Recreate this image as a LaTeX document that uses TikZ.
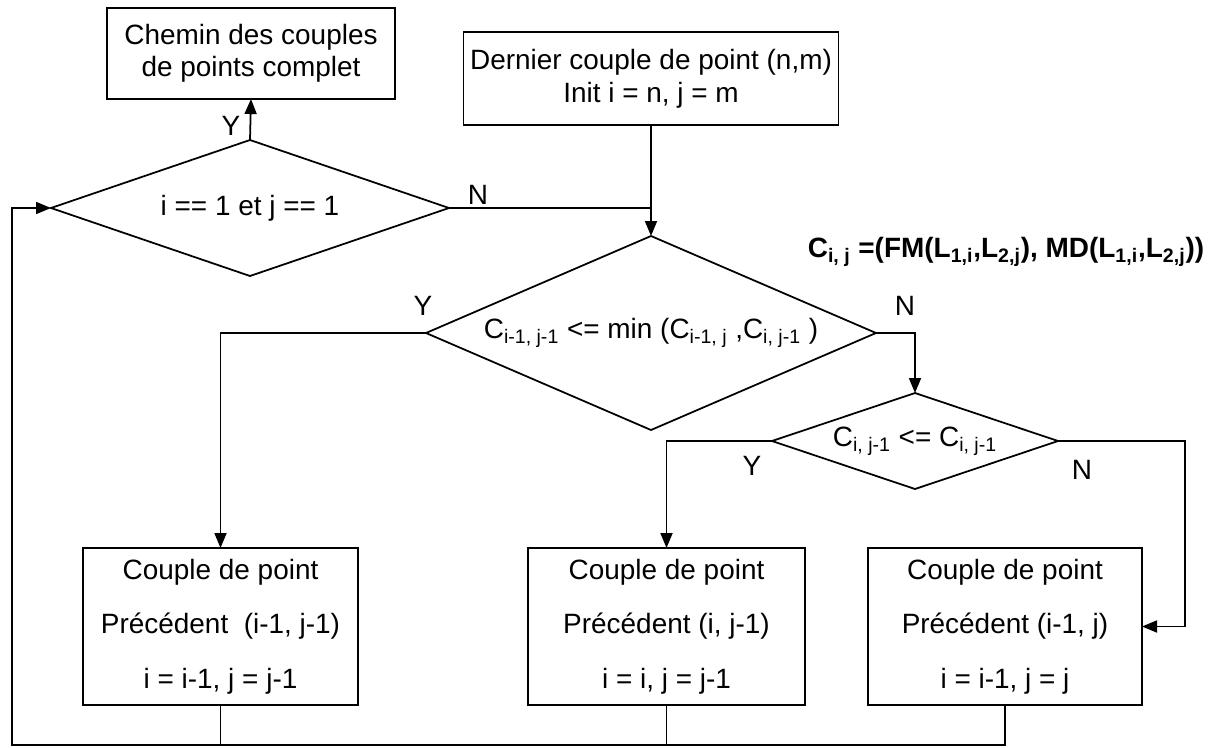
\documentclass[tikz,border=0pt]{standalone}
\usepackage{fontspec}
\setmainfont{Liberation Sans}
\usepackage{tikz}
\usetikzlibrary{shapes.geometric, arrows.meta, positioning, calc}
\newcommand{\sbs}[1]{\textsubscript{#1}}
\tikzset{
    stepbox/.style={draw, rectangle, line width=1pt, outer sep=0pt, inner sep=2pt, align=center, font=\fontsize{15.9pt}{18pt}\selectfont},
    decision/.style={draw, diamond, line width=1pt, outer sep=0pt, inner sep=0pt, align=center, font=\fontsize{15.9pt}{18pt}\selectfont},
    flowline/.style={line width=1pt},
    flowarrow/.style={flowline, -{Triangle[length=3mm, width=2.4mm]}},
    answer/.style={font=\fontsize{15.9pt}{18pt}\selectfont, inner sep=0pt},
}

\begin{document}
\begin{tikzpicture}
    \useasboundingbox (0,0) rectangle (24.2,14.94);

    % Start and end
    \node[stepbox, minimum width=5.76cm, minimum height=1.82cm] (done) at (5.02, 13.87) {Chemin des couples\\de points complet};
    \node[stepbox, minimum width=7.5cm, minimum height=1.86cm, font=\fontsize{15.9pt}{19pt}\selectfont] (init) at (13.02, 13.37) {Dernier couple de point (n,m)\\Init i = n, j = m};

    % Tests
    \node[decision, aspect=2.93, minimum width=7.96cm, minimum height=2.72cm] (cond1) at (5.0, 10.78) {i == 1 et j == 1};
    \node[decision, aspect=2.32, minimum width=9.0cm, minimum height=3.88cm] (cond2) at (13.02, 8.28) {C\sbs{i-1, j-1} <= min (C\sbs{i-1, j} ,C\sbs{i, j-1} )};
    \node[decision, aspect=2.98, minimum width=5.72cm, minimum height=1.92cm] (cond3) at (18.3, 6.12) {C\sbs{i, j-1} <= C\sbs{i, j-1}};

    % Cost
    \node[answer, font=\fontsize{15.9pt}{18pt}\selectfont\bfseries] (cost) at (20.12, 9.9) {C\sbs{i, j} =(FM(L\sbs{1,i},L\sbs{2,j}), MD(L\sbs{1,i},L\sbs{2,j}))};

    % Previous couples
    \node[stepbox, minimum width=5.5cm, minimum height=3.14cm, font=\fontsize{15.9pt}{31pt}\selectfont] (prev1) at (4.41, 2.41) {Couple de point\\Précédent\ \ (i-1, j-1)\\i = i-1, j = j-1};
    \node[stepbox, minimum width=5.54cm, minimum height=3.14cm, font=\fontsize{15.9pt}{31pt}\selectfont] (prev2) at (13.33, 2.41) {Couple de point\\Précédent (i, j-1)\\i = i, j = j-1};
    \node[stepbox, minimum width=5.48cm, minimum height=3.14cm, font=\fontsize{15.9pt}{31pt}\selectfont] (prev3) at (20.1, 2.41) {Couple de point\\Précédent (i-1, j)\\i = i-1, j = j};

    % Corners
    \coordinate (turn) at (23.7, 6.12);
    \coordinate (loopbase) at (0.24, 0.04);

    % Arrows
    \draw[flowarrow] (cond1.north) -- (done.south);
    \draw[flowline] (cond1.east) -- (cond1.east -| cond2.north);
    \draw[flowarrow] (init.south) -- (cond2.north);
    \draw[flowarrow] (cond2.west) -| (prev1.north);
    \draw[flowarrow] (cond2.east) -| (cond3.north);
    \draw[flowarrow] (cond3.west) -| (prev2.north);
    \draw[flowarrow] (cond3.east) -- (turn) |- (prev3.east);
    \draw[flowline] (prev1.south) -- (prev1.south |- loopbase);
    \draw[flowline] (prev2.south) -- (prev2.south |- loopbase);
    \draw[flowarrow] (prev3.south) -- (prev3.south |- loopbase) -- (loopbase) |- (cond1.west);

    % Answers
    \node[answer] (y1) at (4.62, 12.42) {Y};
    \node[answer] (n1) at (9.56, 11.04) {N};
    \node[answer] (y2) at (8.46, 8.82) {Y};
    \node[answer] (n2) at (18.1, 8.82) {N};
    \node[answer] (y3) at (15.04, 5.62) {Y};
    \node[answer] (n3) at (21.64, 5.54) {N};
\end{tikzpicture}
\end{document}
